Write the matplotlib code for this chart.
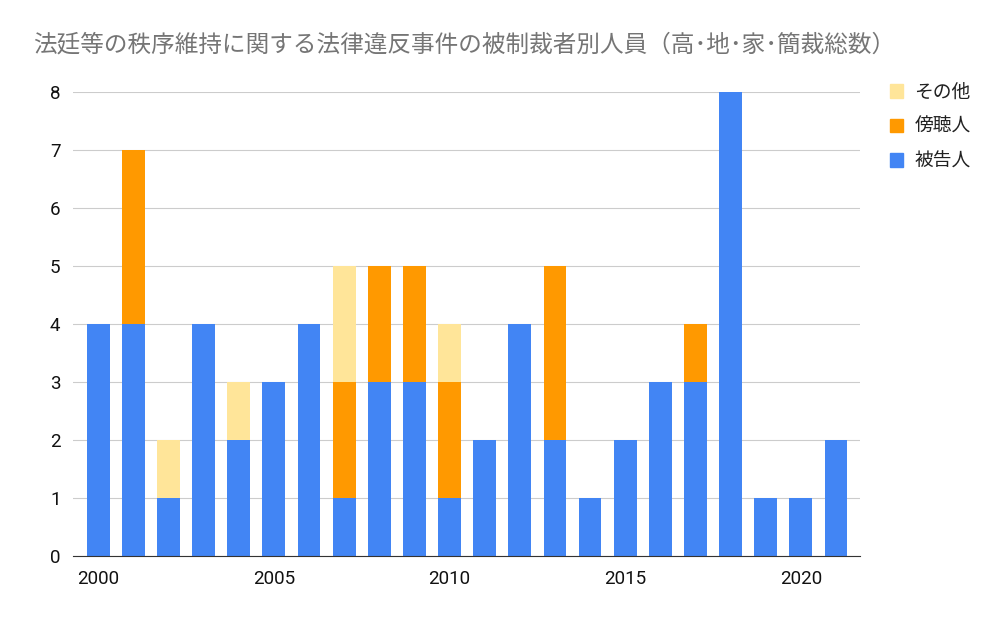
import numpy as np
import matplotlib
matplotlib.use('Agg')
import matplotlib.pyplot as plt
from matplotlib.patches import Patch

plt.rcParams['font.family'] = ['Noto Sans CJK JP', 'DejaVu Sans']

years = list(range(2000, 2022))
defendant = [4, 4, 1, 4, 2, 3, 4, 1, 3, 3, 1, 2, 4, 2, 1, 2, 3, 3, 8, 1, 1, 2]
audience = [0, 3, 0, 0, 0, 0, 0, 2, 2, 2, 2, 0, 0, 3, 0, 0, 0, 1, 0, 0, 0, 0]
other = [0, 0, 1, 0, 1, 0, 0, 2, 0, 0, 1, 0, 0, 0, 0, 0, 0, 0, 0, 0, 0, 0]

labels = ['被告人', '傍聴人', 'その他']
colors = ['#4285F4', '#FF9900', '#FFE599']
title = '法廷等の秩序維持に関する法律違反事件の被制裁者別人員（高･地･家･簡裁総数）'

fig = plt.figure(figsize=(10.05, 6.22), dpi=100)
ax = fig.add_axes([0.0726, 0.106, 0.783, 0.746])

x = np.array(years)
d = np.array(defendant)
a = np.array(audience)
o = np.array(other)
w = 0.65
ax.bar(x, d, width=w, color=colors[0], zorder=3)
ax.bar(x, a, width=w, bottom=d, color=colors[1], zorder=3)
ax.bar(x, o, width=w, bottom=d + a, color=colors[2], zorder=3)

ax.set_xlim(2000 - 0.72, 2021 + 0.68)
ax.set_ylim(0, 8)
ax.set_yticks(range(0, 9))
ax.set_xticks([2000, 2005, 2010, 2015, 2020])
ax.yaxis.grid(True, color='#cccccc', linewidth=0.8, zorder=0)
for s in ['top', 'right', 'left']:
    ax.spines[s].set_visible(False)
ax.spines['bottom'].set_color('#333333')
ax.spines['bottom'].set_zorder(4)
ax.tick_params(axis='both', length=0, labelsize=13.5, labelcolor='#111111')
ax.tick_params(axis='y', pad=9)
ax.tick_params(axis='x', pad=10)
for t in ax.get_xticklabels() + ax.get_yticklabels():
    t.set_family(['Roboto', 'DejaVu Sans'])

fig.text(0.033, 0.928, title, fontsize=17, color='#757575', va='center', ha='left')

handles = [Patch(color=colors[2]), Patch(color=colors[1]), Patch(color=colors[0])]
leg = fig.legend(handles, [labels[2], labels[1], labels[0]], loc='upper left',
                 bbox_to_anchor=(0.878, 0.881), frameon=False, fontsize=13.5,
                 handlelength=0.7, handleheight=0.7, handletextpad=0.6,
                 labelspacing=0.72, borderaxespad=0)
for t in leg.get_texts():
    t.set_color('#222222')

fig.savefig('out.png', dpi=100)
